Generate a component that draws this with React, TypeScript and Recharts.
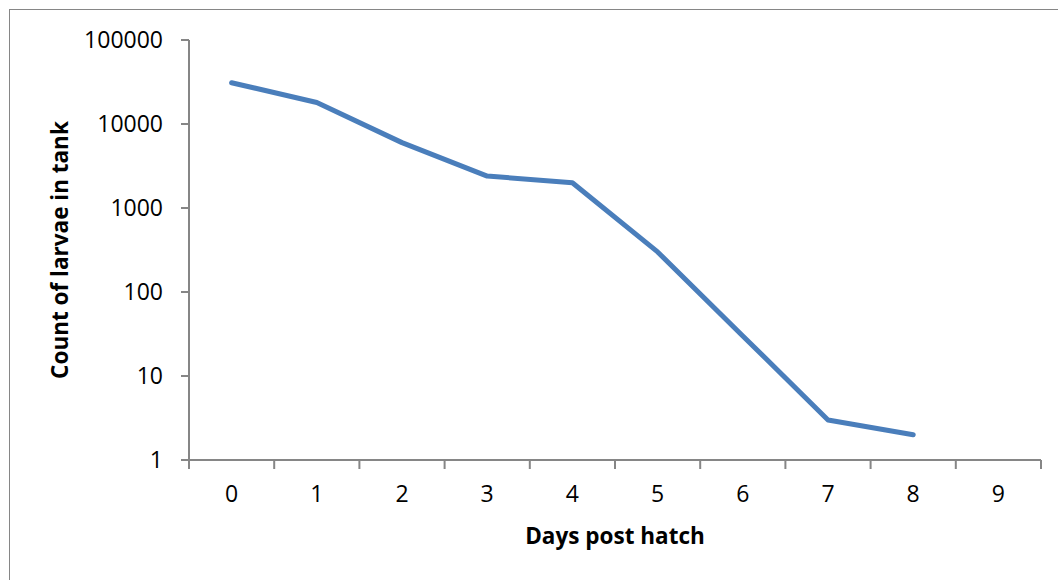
import React from 'react';
import { LineChart, Line, XAxis, YAxis } from 'recharts';

const days = [0, 1, 2, 3, 4, 5, 6, 7, 8];
const larvaeCounts = [31000, 18000, 6000, 2400, 2000, 300, 30, 3, 2];
const dayTicks = [0, 1, 2, 3, 4, 5, 6, 7, 8, 9];
const dayEdges = [-0.5, 0.5, 1.5, 2.5, 3.5, 4.5, 5.5, 6.5, 7.5, 8.5, 9.5];
const countTicks = [1, 10, 100, 1000, 10000, 100000];

const chartData = days.map((day, i) => ({ day, count: larvaeCounts[i] }));

const FONT = '"Open Sans", Lato, sans-serif';
const AXIS_GRAY = '#868686';

export default function App() {
  return (
    <div
      style={{
        position: 'absolute',
        left: 9,
        top: 9,
        width: 1049,
        height: 571,
        borderTop: `1px solid ${AXIS_GRAY}`,
        borderLeft: `1px solid ${AXIS_GRAY}`,
        background: '#fff',
        overflow: 'hidden',
        boxSizing: 'border-box',
      }}
    >
      <LineChart
        width={1048}
        height={570}
        data={chartData}
        margin={{ top: 30, right: 17, left: 30, bottom: 30 }}
        style={{ fontFamily: FONT }}
      >
        {/* boundary tick marks between days, Excel style */}
        <XAxis
          xAxisId={0}
          dataKey="day"
          type="number"
          domain={[-0.5, 9.5]}
          ticks={dayEdges}
          interval={0}
          height={1}
          tick={() => <g />}
          tickSize={9}
          tickLine={{ stroke: AXIS_GRAY, strokeWidth: 2 }}
          axisLine={{ stroke: AXIS_GRAY, strokeWidth: 2 }}
        />
        <XAxis
          xAxisId={1}
          dataKey="day"
          type="number"
          domain={[-0.5, 9.5]}
          ticks={dayTicks}
          interval={0}
          height={89}
          tickSize={8}
          tickMargin={17}
          tickLine={false}
          axisLine={false}
          tick={{ fill: '#000', fontSize: 23, fontFamily: FONT }}
          label={{
            value: 'Days post hatch',
            position: 'insideBottom',
            offset: 6,
            fill: '#000',
            fontSize: 22.5,
            fontWeight: 'bold',
            fontFamily: FONT,
          }}
        />
        <YAxis
          dataKey="count"
          scale="log"
          domain={[1, 100000]}
          ticks={countTicks}
          interval={0}
          allowDataOverflow
          width={149}
          tickSize={8}
          tickMargin={18}
          tickLine={{ stroke: AXIS_GRAY, strokeWidth: 2 }}
          axisLine={{ stroke: AXIS_GRAY, strokeWidth: 2 }}
          tick={{ fill: '#000', fontSize: 23, fontFamily: FONT }}
          label={{
            value: 'Count of larvae in tank',
            angle: -90,
            position: 'insideLeft',
            offset: 20,
            textAnchor: 'middle',
            style: { textAnchor: 'middle' },
            fill: '#000',
            fontSize: 22.5,
            fontWeight: 'bold',
            fontFamily: FONT,
          }}
        />
        <Line
          xAxisId={0}
          type="linear"
          dataKey="count"
          stroke="#4A7EBB"
          strokeWidth={5}
          strokeLinecap="round"
          strokeLinejoin="round"
          dot={false}
          activeDot={false}
          isAnimationActive={false}
        />
      </LineChart>
    </div>
  );
}
